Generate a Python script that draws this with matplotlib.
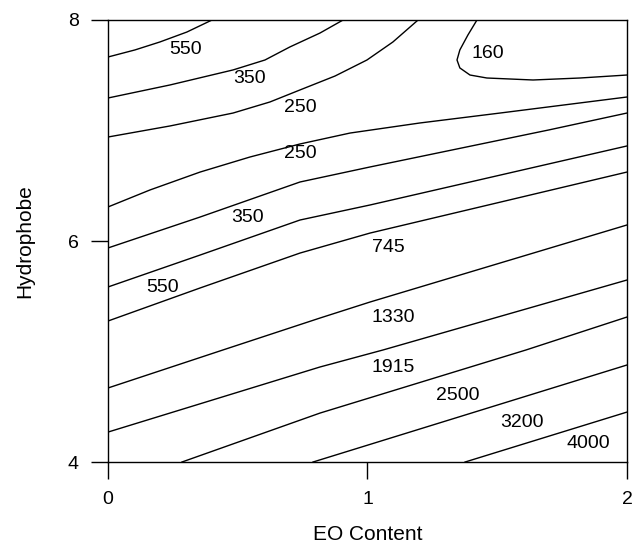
import matplotlib
matplotlib.use("Agg")
import matplotlib.pyplot as plt

plt.rcParams['font.family'] = ['Liberation Sans', 'DejaVu Sans']

# contour lines (EO content, hydrophobe)
c550a_x = [0.0, 0.104, 0.200, 0.304, 0.401]
c550a_y = [7.665, 7.729, 7.801, 7.891, 8.0]
c350a_x = [0.0, 0.239, 0.482, 0.605, 0.701, 0.817, 0.906]
c350a_y = [7.294, 7.412, 7.548, 7.638, 7.756, 7.882, 8.0]
c250a_x = [0.0, 0.239, 0.482, 0.624, 0.740, 0.875, 0.998, 1.098, 1.195]
c250a_y = [6.941, 7.041, 7.158, 7.258, 7.367, 7.493, 7.638, 7.801, 8.0]
c160_x = [1.422, 1.387, 1.356, 1.345, 1.356, 1.395, 1.460, 1.638, 1.819, 2.0]
c160_y = [8.0, 7.864, 7.729, 7.638, 7.566, 7.502, 7.475, 7.457, 7.475, 7.502]
c250b_x = [0.0, 0.162, 0.355, 0.547, 0.740, 0.933, 1.202, 1.511, 2.0]
c250b_y = [6.308, 6.462, 6.624, 6.760, 6.878, 6.977, 7.068, 7.158, 7.303]
c350b_x = [0.0, 0.355, 0.740, 1.010, 1.699, 2.0]
c350b_y = [5.937, 6.217, 6.534, 6.670, 7.005, 7.158]
c550b_x = [0.0, 0.355, 0.740, 1.010, 2.0]
c550b_y = [5.584, 5.873, 6.190, 6.326, 6.860]
c745_x = [0.0, 0.355, 0.740, 1.010, 2.0]
c745_y = [5.276, 5.575, 5.891, 6.072, 6.624]
c1330_x = [0.0, 0.443, 0.817, 1.010, 2.0]
c1330_y = [4.670, 5.014, 5.303, 5.448, 6.145]
c1915_x = [0.0, 0.817, 1.060, 2.0]
c1915_y = [4.271, 4.860, 5.014, 5.647]
c2500_x = [0.285, 0.817, 1.611, 2.0]
c2500_y = [4.0, 4.443, 5.014, 5.312]
c3200_x = [0.790, 2.0]
c3200_y = [4.0, 4.878]
c4000_x = [1.376, 2.0]
c4000_y = [4.0, 4.452]

# contour labels
label_text = ['550', '350', '250', '160', '250', '350', '550', '745',
              '1330', '1915', '2500', '3200', '4000']
label_x = [0.297, 0.547, 0.740, 1.464, 0.740, 0.539, 0.212, 1.079,
           1.098, 1.098, 1.349, 1.595, 1.850]
label_y = [7.729, 7.475, 7.204, 7.701, 6.796, 6.217, 5.575, 5.937,
           5.312, 4.851, 4.606, 4.362, 4.172]

lines = [(c550a_x, c550a_y), (c350a_x, c350a_y), (c250a_x, c250a_y),
         (c160_x, c160_y), (c250b_x, c250b_y), (c350b_x, c350b_y),
         (c550b_x, c550b_y), (c745_x, c745_y), (c1330_x, c1330_y),
         (c1915_x, c1915_y), (c2500_x, c2500_y), (c3200_x, c3200_y),
         (c4000_x, c4000_y)]

fig = plt.figure(figsize=(6.36, 5.46), dpi=100)
ax = fig.add_axes([0.1698, 0.1538, 0.816, 0.8096])

for xs, ys in lines:
    ax.plot(xs, ys, color='black', lw=1.0, solid_joinstyle='round')

for t, x, y in zip(label_text, label_x, label_y):
    ax.text(x, y, t, fontsize=14, ha='center', va='center')

ax.set_xlim(0, 2)
ax.set_ylim(4, 8)
ax.set_xticks([0, 1, 2])
ax.set_yticks([4, 6, 8])
ax.tick_params(direction='out', length=12, width=1.0, labelsize=14, pad=9)
for s in ax.spines.values():
    s.set_linewidth(1.0)

ax.set_xlabel('EO Content', fontsize=15, labelpad=12)
ax.set_ylabel('Hydrophobe', fontsize=15, labelpad=24)

fig.savefig('out.png', dpi=100)
